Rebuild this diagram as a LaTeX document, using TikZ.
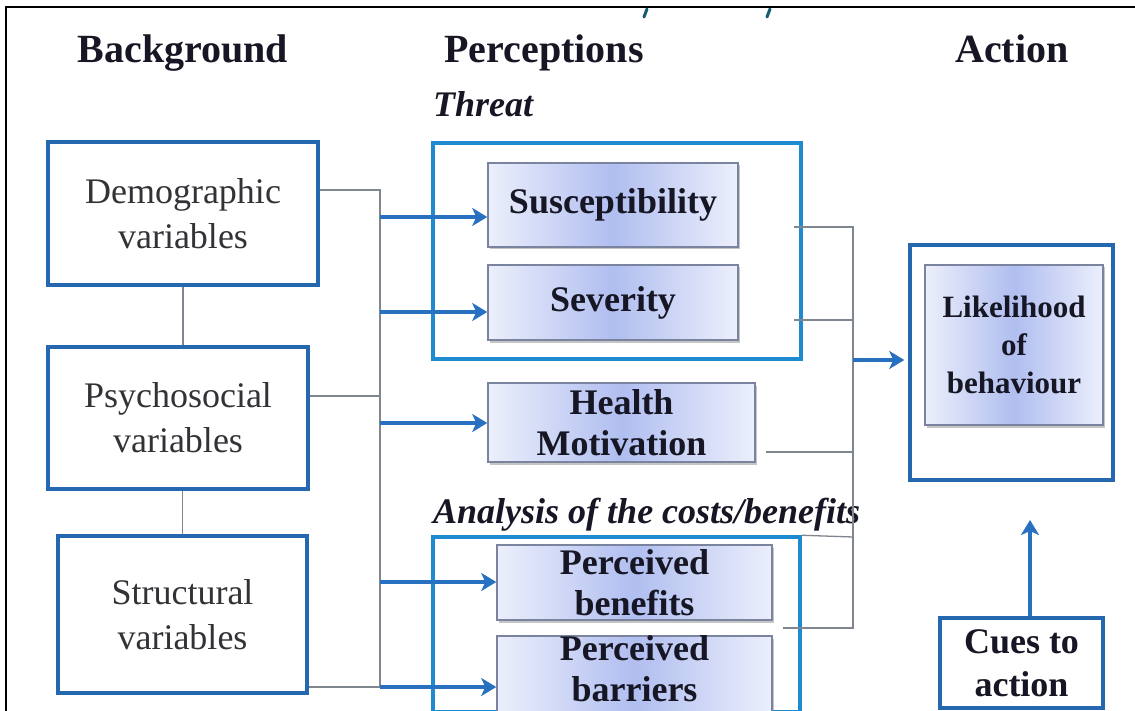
\documentclass[tikz,border=0pt]{standalone}
\usepackage{fontspec}
\setmainfont{Liberation Serif}
\usetikzlibrary{arrows.meta,shadows,calc}
\definecolor{boxblue}{RGB}{38,104,176}
\definecolor{thrblue}{RGB}{30,138,208}
\definecolor{arrblue}{RGB}{40,112,192}
\definecolor{conngray}{RGB}{128,134,142}
\definecolor{gradin}{RGB}{176,190,240}
\definecolor{gradout}{RGB}{236,239,251}
\definecolor{gradedge}{RGB}{122,132,158}
\definecolor{tealmark}{RGB}{22,92,112}
\definecolor{bodytext}{RGB}{50,50,55}
\definecolor{boldtext}{RGB}{22,22,36}
\begin{document}
\begin{tikzpicture}[x=1pt,y=-1pt,
  bgbox/.style={draw=boxblue, line width=3.5pt, fill=white, inner sep=0pt, align=center,
    text=bodytext, font=\fontsize{36}{45}\selectfont},
  grpbox/.style={draw=thrblue, line width=3.5pt, inner sep=0pt},
  outbox/.style={draw=boxblue, line width=3.5pt, inner sep=0pt, align=center,
    text=boldtext, font=\bfseries\fontsize{36}{43}\selectfont},
  gradbox/.style={draw=gradedge, line width=1.5pt, left color=gradout, right color=gradout, middle color=gradin,
    drop shadow={shadow xshift=1.5pt, shadow yshift=-2.5pt, opacity=0.45},
    inner sep=0pt, align=center, text=boldtext, font=\bfseries\fontsize{36}{41}\selectfont},
  header/.style={anchor=base, inner sep=0pt, text=boldtext, font=\bfseries\fontsize{40}{48}\selectfont},
  grplabel/.style={anchor=base west, inner sep=0pt, text=boldtext, font=\bfseries\itshape\fontsize{36}{44}\selectfont},
  conn/.style={draw=conngray, line width=1.3pt},
  arr/.style={draw=arrblue, line width=4pt, -{Stealth[length=15pt,width=18pt,inset=4pt]}}
]
\useasboundingbox (0,0) rectangle (1135,711);
\fill[white] (0,0) rectangle (1135,711);
\draw[black, line width=1.6pt] (6,711) -- (6,7) -- (1135,7);
% fragments of the cut-off title
\draw[tealmark, line width=3pt, line cap=round] (647,9) -- (644,17);
\draw[tealmark, line width=3pt, line cap=round] (770,9) -- (767,17);

% headers
\node[header] (hbg) at (183,63) {Background};
\node[header] (hper) at (544,63) {Perceptions};
\node[header] (hact) at (1012,63) {Action};
\node[grplabel] (lthr) at (433,117) {Threat};
\node[grplabel] (lana) at (433,523) {Analysis of the costs/benefits};

% background column
\node[bgbox, minimum width=270pt, minimum height=143pt] (demo) at (183,213.5) {Demographic\\variables};
\node[bgbox, minimum width=260pt, minimum height=142pt] (psycho) at (178,418) {Psychosocial\\variables};
\node[bgbox, minimum width=249pt, minimum height=157pt] (struct) at (182.5,614.5) {Structural\\variables};

% perception group boxes
\node[grpbox, minimum width=368pt, minimum height=216pt] (threat) at (617,251) {};
\node[grpbox, minimum width=367pt, minimum height=175pt] (analysis) at (616.5,624.5) {};

% gradient boxes
\node[gradbox, minimum width=250pt, minimum height=84pt] (susc) at (613,205) {Susceptibility};
\node[gradbox, minimum width=250pt, minimum height=75pt] (sev) at (613,302.5) {Severity};
\node[gradbox, minimum width=267pt, minimum height=79pt] (health) at (621.5,422.5) {Health\\Motivation};
\node[gradbox, minimum width=275pt, minimum height=75pt] (benef) at (634.5,582.5) {Perceived\\benefits};
\node[gradbox, minimum width=275pt, minimum height=80pt, text depth=16pt] (barr) at (634.5,677) {Perceived\\barriers};

% action column
\node[outbox, minimum width=203pt, minimum height=235pt] (likeout) at (1011.5,362.5) {};
\node[gradbox, minimum width=178pt, minimum height=160pt, font=\bfseries\fontsize{31}{38}\selectfont] (likein) at (1014,345) {Likelihood\\of\\behaviour};
\node[outbox, minimum width=163pt, minimum height=90pt, font=\bfseries\fontsize{36}{43}\selectfont] (cues) at (1021.5,663) {Cues to\\action};

% left connectors
\draw[conn] (demo.south) -- (demo.south |- psycho.north);
\draw[conn] (struct.north) -- (struct.north |- psycho.south);
\coordinate (L1) at (380,190);
\coordinate (L2) at (380,396);
\coordinate (L3) at (380,687);
\draw[conn] (demo.east |- L1) -- (L1) -- (L3);
\draw[conn] (psycho.east |- L2) -- (L2);
\draw[conn] (struct.east |- L3) -- (L3);

\coordinate (A1) at (380,217);
\coordinate (A2) at (380,312);
\coordinate (A3) at (380,423);
\coordinate (A4) at (380,582);
\draw[arr] (A1) -- (A1 -| susc.west);
\draw[arr] (A2) -- (A2 -| sev.west);
\draw[arr] (A3) -- (A3 -| health.west);
\draw[arr] (A4) -- (A4 -| benef.west);
\draw[arr] (L3) -- (L3 -| barr.west);

% right connectors
\coordinate (R1) at (853,227);
\coordinate (R2) at (853,320);
\coordinate (R3) at (853,452);
\coordinate (R4) at (853,537);
\coordinate (R5) at (853,628);
\coordinate (RM) at (853,360);
\coordinate (t1) at ([xshift=-9pt]threat.east);
\coordinate (h1) at ([xshift=10pt]health.east);
\coordinate (b1) at ([xshift=10pt]benef.east);
\draw[conn] (t1 |- R1) -- (R1) -- (R5) -- (b1 |- R5);
\draw[conn] (t1 |- R2) -- (R2);
\draw[conn] (h1 |- R3) -- (R3);
\draw[conn] (analysis.north east) -- (R4);
\draw[arr, shorten >=4pt] (RM) -- (RM -| likeout.west);

% cues arrow
\coordinate (CT) at (1030,520);
\draw[arr] (CT |- cues.north) -- (CT);
\end{tikzpicture}
\end{document}
